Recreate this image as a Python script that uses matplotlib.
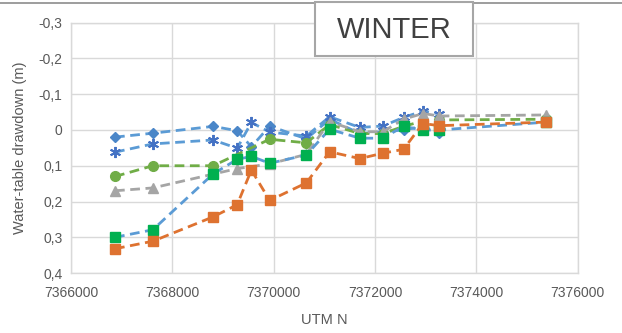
import matplotlib
matplotlib.use("Agg")
import matplotlib.pyplot as plt
from matplotlib.lines import Line2D
from matplotlib.patches import Rectangle
from matplotlib.ticker import FuncFormatter

plt.rcParams['font.family'] = ['Liberation Sans', 'DejaVu Sans']

# UTM N positions of the wells
x_A, x_B, x_C, x_D, x_E, x_F, x_G = 7366870, 7367616, 7368804, 7369280, 7369560, 7369921, 7370644
x_H, x_I, x_J, x_K, x_L, x_M, x_N = 7371103, 7371700, 7372154, 7372562, 7372943, 7373271, 7375380

# blue diamonds
diamond_x = [x_A, x_B, x_C, x_D, x_E, x_F, x_G, x_H, x_I, x_J, x_K, x_L, x_M]
diamond_y = [0.020, 0.009, -0.010, 0.002, 0.047, -0.011, 0.025, -0.030, 0.010, 0.005, 0.000, -0.010, 0.009]

# dark blue stars
star_x = [x_A, x_B, x_C, x_D, x_E, x_F, x_G, x_H, x_I, x_J, x_K, x_L, x_M]
star_y = [0.062, 0.039, 0.028, 0.051, -0.021, 0.006, 0.017, -0.037, -0.007, -0.011, -0.035, -0.053, -0.045]

# green circles
circle_x = [x_A, x_B, x_C, x_F, x_G, x_H, x_I, x_J, x_K, x_L, x_M, x_N]
circle_y = [0.130, 0.100, 0.100, 0.026, 0.036, -0.015, 0.010, 0.010, -0.010, -0.025, -0.028, -0.030]

# gray triangles
tri_x = [x_A, x_B, x_D, x_F, x_G, x_H, x_I, x_J, x_K, x_L, x_M, x_N]
tri_y = [0.170, 0.162, 0.108, 0.095, 0.068, -0.023, 0.005, 0.005, -0.030, -0.046, -0.039, -0.042]

# green squares
gsq_x = [x_A, x_B, x_C, x_D, x_E, x_F, x_G, x_H, x_I, x_J, x_K, x_L, x_M, x_N]
gsq_y = [0.300, 0.279, 0.123, 0.082, 0.074, 0.093, 0.070, -0.002, 0.023, 0.023, -0.010, 0.000, 0.000, -0.022]

# orange squares
osq_x = [x_A, x_B, x_C, x_D, x_E, x_F, x_G, x_H, x_I, x_J, x_K, x_L, x_M, x_N]
osq_y = [0.332, 0.311, 0.243, 0.209, 0.112, 0.197, 0.148, 0.061, 0.080, 0.065, 0.054, -0.018, -0.012, -0.022]

y_ticks = [-0.3, -0.2, -0.1, 0, 0.1, 0.2, 0.3, 0.4]
x_ticks = [7366000, 7368000, 7370000, 7372000, 7374000, 7376000]

fig = plt.figure(figsize=(6.22, 3.33), dpi=100)
ax = fig.add_axes([0.114, 0.180, 0.815, 0.752])

dash = (0, (3.5, 2))
lw = 2.0
ax.plot(diamond_x, diamond_y, linestyle=dash, color='#5B9BD5', linewidth=lw,
        marker='D', markersize=5.5, markerfacecolor='#4A86C8', markeredgecolor='#4A86C8', zorder=3)
ax.plot(star_x, star_y, linestyle=dash, color='#5B9BD5', linewidth=lw,
        marker=(6, 2, 0), markersize=8, markeredgewidth=1.4,
        markerfacecolor='#4472C4', markeredgecolor='#4472C4', zorder=3)
ax.plot(circle_x, circle_y, linestyle=dash, color='#70AD47', linewidth=lw,
        marker='o', markersize=7, markerfacecolor='#70AD47', markeredgecolor='#70AD47', zorder=3)
ax.plot(tri_x, tri_y, linestyle=dash, color='#A5A5A5', linewidth=lw,
        marker='^', markersize=7.5, markerfacecolor='#A5A5A5', markeredgecolor='#A5A5A5', zorder=3)
ax.plot(gsq_x, gsq_y, linestyle=dash, color='#5B9BD5', linewidth=lw,
        marker='s', markersize=7.5, markerfacecolor='#00B050', markeredgecolor='#00B050', zorder=3)
ax.plot(osq_x, osq_y, linestyle=dash, color='#DE7230', linewidth=lw,
        marker='s', markersize=7.5, markerfacecolor='#DE7230', markeredgecolor='#DE7230', zorder=3)

ax.set_xlim(7366000, 7376000)
ax.set_ylim(0.4, -0.3)
ax.set_xticks(x_ticks)
ax.set_yticks(y_ticks)
ax.yaxis.set_major_formatter(FuncFormatter(
    lambda v, p: '0' if abs(v) < 1e-9 else f'{v:.1f}'.replace('.', ',')))
ax.xaxis.set_major_formatter(FuncFormatter(lambda v, p: f'{int(v)}'))
ax.tick_params(length=0, labelsize=10, colors='#595959', pad=9)
ax.tick_params(axis='y', pad=6)
ax.grid(True, color='#D9D9D9', linewidth=1)
ax.set_axisbelow(True)
for s in ax.spines.values():
    s.set_color('#D9D9D9')
    s.set_linewidth(1)

ax.set_xlabel('UTM N', fontsize=10.5, color='#595959', labelpad=10)
ax.set_ylabel('Water-table drawdown (m)', fontsize=10.5, color='#595959', labelpad=8)

# chart border on top
fig.add_artist(Line2D([0, 1], [1 - 3 / 333, 1 - 3 / 333], color='#8C8C8C', linewidth=1.2, zorder=1))

# title box
fig.add_artist(Rectangle((315 / 622, 1 - 56 / 333), 158 / 622, 54 / 333,
                         facecolor='white', edgecolor='#A6A6A6', linewidth=1.5,
                         transform=fig.transFigure, zorder=5))
fig.text(394 / 622, 1 - 30 / 333, 'WINTER', fontsize=21, color='#404040',
         ha='center', va='center', zorder=6)

fig.savefig('out.png', dpi=100)
